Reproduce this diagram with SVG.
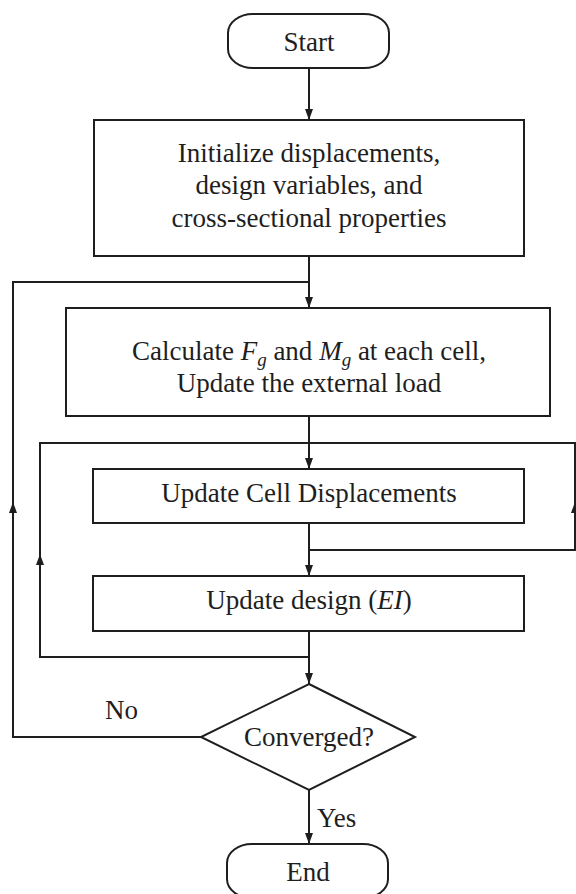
<svg xmlns="http://www.w3.org/2000/svg" width="576" height="894" viewBox="0 0 576 894">
  <defs>
    <marker id="arrow" viewBox="0 0 11 10" refX="11" refY="5" markerWidth="11" markerHeight="10" markerUnits="userSpaceOnUse" orient="auto">
      <path d="M0,1 L11,5 L0,9 Z" fill="#1e1e1e"/>
    </marker>
    <style>
      .shape { fill: #ffffff; stroke: #1e1e1e; stroke-width: 2; }
      .wire { fill: none; stroke: #1e1e1e; stroke-width: 2; }
      .txt { font-family: "Liberation Serif", "Times New Roman", serif; font-size: 27px; fill: #1e1e1e; text-anchor: middle; }
      .lbl { font-family: "Liberation Serif", "Times New Roman", serif; font-size: 27px; fill: #1e1e1e; }
      .math { font-style: italic; }
    </style>
  </defs>
  <rect width="576" height="894" fill="#ffffff"/>

  <!-- connectors -->
  <g id="connectors">
    <line class="wire" x1="309" y1="68" x2="309" y2="120" marker-end="url(#arrow)"/>
    <line class="wire" x1="309" y1="256" x2="309" y2="308" marker-end="url(#arrow)"/>
    <line class="wire" x1="309" y1="416" x2="309" y2="469" marker-end="url(#arrow)"/>
    <line class="wire" x1="309" y1="523" x2="309" y2="576" marker-end="url(#arrow)"/>
    <line class="wire" x1="309" y1="631" x2="309" y2="684" marker-end="url(#arrow)"/>
    <line class="wire" x1="309" y1="790" x2="309" y2="844" marker-end="url(#arrow)"/>
    <!-- outer loop: No branch back to the load update -->
    <polyline class="wire" points="201,737 13,737 13,282 309,282"/>
    <line class="wire" x1="13" y1="560" x2="13" y2="502" marker-end="url(#arrow)"/>
    <!-- design loop back to the displacement update -->
    <polyline class="wire" points="309,657 40,657 40,443 309,443"/>
    <line class="wire" x1="40" y1="600" x2="40" y2="554" marker-end="url(#arrow)"/>
    <!-- displacement self loop -->
    <polyline class="wire" points="309,550 575,550 575,443 309,443"/>
    <line class="wire" x1="575" y1="530" x2="575" y2="502" marker-end="url(#arrow)"/>
  </g>

  <g id="start">
    <rect class="shape" x="228" y="14" width="161" height="54" rx="25" ry="19"/>
    <text class="txt" x="309" y="51">Start</text>
  </g>

  <g id="init">
    <rect class="shape" x="94" y="120" width="430" height="136"/>
    <text class="txt" x="309" y="162">Initialize displacements,</text>
    <text class="txt" x="309" y="194">design variables, and</text>
    <text class="txt" x="309" y="227">cross-sectional properties</text>
  </g>

  <g id="load">
    <rect class="shape" x="66" y="308" width="484" height="108"/>
    <text class="txt" x="309" y="360">Calculate <tspan class="math">F</tspan><tspan class="math" font-size="19" dy="6">g</tspan><tspan dy="-6"> and </tspan><tspan class="math">M</tspan><tspan class="math" font-size="19" dy="6">g</tspan><tspan dy="-6"> at each cell,</tspan></text>
    <text class="txt" x="309" y="392">Update the external load</text>
  </g>

  <g id="displacements">
    <rect class="shape" x="93" y="469" width="431" height="54"/>
    <text class="txt" x="309" y="502">Update Cell Displacements</text>
  </g>

  <g id="design">
    <rect class="shape" x="93" y="576" width="431" height="55"/>
    <text class="txt" x="309" y="609">Update design (<tspan class="math">EI</tspan>)</text>
  </g>

  <g id="converged">
    <polygon class="shape" points="309,684 415,737 309,790 201,737"/>
    <text class="txt" x="309" y="746">Converged?</text>
  </g>

  <g id="end">
    <rect class="shape" x="227" y="844" width="161" height="54" rx="25" ry="19"/>
    <text class="txt" x="308" y="881">End</text>
  </g>

  <g id="labels">
    <text class="lbl" x="105" y="719">No</text>
    <text class="lbl" x="317" y="827">Yes</text>
  </g>
</svg>
